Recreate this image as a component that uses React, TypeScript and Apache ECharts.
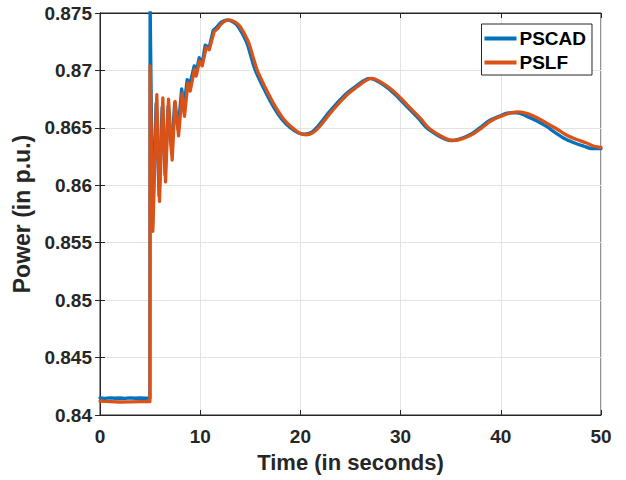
import React, { useEffect, useRef } from "react";
import * as echarts from "echarts";

const seriesNames = ["PSCAD", "PSLF"];

// PSCAD: [time (s), power (p.u.)]
const pscadData: [number, number][] = [
  [0, 0.84148], [0.5, 0.84145], [1, 0.84149], [1.5, 0.84146], [2, 0.84148], [2.5, 0.84145],
  [3, 0.84149], [3.5, 0.84146], [4, 0.84148], [4.5, 0.84146], [4.98, 0.84148],
  [5.0, 0.8760], [5.25, 0.8566], [5.6, 0.8671], [5.9, 0.8591], [6.2, 0.8668], [6.5, 0.8609],
  [6.8, 0.8669], [7.15, 0.8628], [7.45, 0.8672], [7.8, 0.8649], [8.15, 0.8684], [8.4, 0.8669],
  [8.7, 0.8692], [9.0, 0.8689], [9.4, 0.8704], [9.6, 0.8699], [9.9, 0.8711], [10.2, 0.8706],
  [10.5, 0.8722], [10.9, 0.8720], [11.3, 0.8735], [11.7, 0.8738],
  [12.1, 0.8742], [12.7, 0.8744], [13.3, 0.8742], [13.8, 0.8738], [14.6, 0.8725], [15.1, 0.8711],
  [15.5, 0.8700], [16.3, 0.8685], [17.2, 0.8670], [18.1, 0.8658], [19.0, 0.8650], [19.8, 0.86455],
  [20.4, 0.86445], [21.1, 0.8646], [21.9, 0.8653], [22.8, 0.8663], [23.7, 0.8672], [24.6, 0.8680],
  [25.5, 0.8686], [26.3, 0.8691], [26.9, 0.8693], [27.8, 0.8690], [28.8, 0.8684], [29.8, 0.8676],
  [30.8, 0.8667], [31.8, 0.8658], [32.6, 0.8650], [33.6, 0.8644], [34.5, 0.8640], [35.1, 0.8639],
  [36.1, 0.8641], [37.1, 0.8645], [37.9, 0.8650], [38.8, 0.8656], [39.8, 0.8660], [40.8, 0.8663],
  [41.6, 0.8663], [42.6, 0.8660], [43.6, 0.8656], [44.6, 0.8651], [45.4, 0.8646], [46.3, 0.8641],
  [47.3, 0.8637], [48.3, 0.8634], [49.1, 0.8632], [50, 0.8632],
];

// PSLF: [time (s), power (p.u.)]
const pslfData: [number, number][] = [
  [0, 0.84120], [1, 0.84116], [2, 0.84113], [3, 0.84114], [4, 0.84116], [4.98, 0.84117],
  [5.0, 0.8704], [5.27, 0.8560], [5.67, 0.8679], [5.94, 0.8586], [6.27, 0.8676], [6.54, 0.8603],
  [6.84, 0.8675], [7.2, 0.8622], [7.5, 0.8673], [7.84, 0.8643], [8.2, 0.8680], [8.43, 0.8660],
  [8.77, 0.8689], [9.0, 0.8682], [9.43, 0.8701], [9.6, 0.8695], [9.93, 0.8708], [10.2, 0.8704],
  [10.6, 0.8720], [10.9, 0.8718], [11.4, 0.8734], [11.8, 0.8737],
  [12.3, 0.8742], [12.9, 0.8744], [13.5, 0.8742], [14.0, 0.8738], [14.8, 0.8725], [15.3, 0.8711],
  [15.7, 0.8700], [16.5, 0.8685], [17.4, 0.8670], [18.3, 0.8658], [19.2, 0.8650], [20.0, 0.8645],
  [20.6, 0.8644], [21.3, 0.8646], [22.1, 0.8653], [23.0, 0.8663], [23.9, 0.8672], [24.8, 0.8680],
  [25.7, 0.8686], [26.5, 0.8691], [27.1, 0.8693], [28.0, 0.8690], [29.0, 0.8684], [30.0, 0.8676],
  [31.0, 0.8667], [32.0, 0.8658], [32.8, 0.8650], [33.8, 0.8644], [34.7, 0.8640], [35.3, 0.8639],
  [36.3, 0.8641], [37.3, 0.8645], [38.1, 0.8650], [39.0, 0.8656], [40.0, 0.8660], [41.0, 0.8663],
  [41.8, 0.8664], [42.8, 0.8662], [43.8, 0.8658], [44.8, 0.8653], [45.6, 0.8649], [46.5, 0.8644],
  [47.5, 0.8640], [48.5, 0.8637], [49.3, 0.8634], [50, 0.8633],
];

const xTicks = [0, 10, 20, 30, 40, 50];
const yTicks = [0.84, 0.845, 0.85, 0.855, 0.86, 0.865, 0.87, 0.875];
// the slow swing after this time is drawn as a smooth curve
const smoothFrom = 11.7;

const FONT = "'Liberation Sans', Arial, Helvetica, sans-serif";
const TXT = "#262626";
const BLUE = "#0072BD";
const ORANGE = "#D95319";

export default function App() {
  const ref = useRef<HTMLDivElement>(null);
  useEffect(() => {
    if (!ref.current) return;
    const chart = echarts.init(ref.current, undefined, { renderer: "svg" });
    const xMin = xTicks[0];
    const xMax = xTicks[xTicks.length - 1];
    const xInt = xTicks[1] - xTicks[0];
    const yMin = yTicks[0];
    const yMax = yTicks[yTicks.length - 1];
    const yInt = 0.005;
    const fmtY = (v: number) => parseFloat(v.toFixed(3)).toString();
    const fast = (d: [number, number][]) => d.filter((p) => p[0] <= smoothFrom + 0.15);
    const slow = (d: [number, number][]) => d.filter((p) => p[0] >= smoothFrom - 0.15);
    const mk = (name: string, data: [number, number][], color: string, smooth: number | boolean) => ({
      name,
      type: "line",
      xAxisIndex: 0,
      yAxisIndex: 0,
      data,
      showSymbol: false,
      smooth,
      clip: true,
      lineStyle: { color, width: 3.3, cap: "round", join: "round" },
      itemStyle: { color },
    });
    chart.setOption({
      animation: false,
      backgroundColor: "#ffffff",
      grid: {
        left: 100,
        right: 25,
        top: 13,
        bottom: 65,
        show: true,
        borderColor: TXT,
        borderWidth: 1,
        backgroundColor: "transparent",
      },
      legend: {
        data: seriesNames,
        orient: "vertical",
        right: 34,
        top: 24,
        backgroundColor: "#ffffff",
        borderColor: TXT,
        borderWidth: 1,
        borderRadius: 0,
        padding: [5, 6, 3, 3],
        itemGap: 5,
        itemWidth: 32,
        itemHeight: 4,
        icon: "rect",
        textStyle: { fontFamily: FONT, fontWeight: "bold", fontSize: 19, color: "#000", padding: [0, 0, 0, -2] },
      },
      xAxis: [
        {
          type: "value",
          min: xMin,
          max: xMax,
          interval: xInt,
          name: "Time (in seconds)",
          nameLocation: "middle",
          nameGap: 36,
          nameTextStyle: { fontFamily: FONT, fontWeight: "bold", fontSize: 22, color: TXT },
          axisLine: { show: true, lineStyle: { color: TXT, width: 1 } },
          axisTick: { show: true, inside: true, length: 5, lineStyle: { color: TXT } },
          axisLabel: { fontFamily: FONT, fontWeight: "bold", fontSize: 19, color: TXT, margin: 12 },
          splitLine: { show: true, lineStyle: { color: "#e3e3e3", width: 1 } },
        },
        {
          type: "value",
          position: "top",
          min: xMin,
          max: xMax,
          interval: xInt,
          axisLine: { show: true, lineStyle: { color: TXT } },
          axisTick: { show: true, inside: true, length: 5, lineStyle: { color: TXT } },
          axisLabel: { show: false },
          splitLine: { show: false },
        },
      ],
      yAxis: [
        {
          type: "value",
          min: yMin,
          max: yMax,
          interval: yInt,
          name: "Power (in p.u.)",
          nameLocation: "middle",
          nameGap: 67,
          nameTextStyle: { fontFamily: FONT, fontWeight: "bold", fontSize: 23, color: TXT },
          axisLine: { show: true, lineStyle: { color: TXT, width: 1 } },
          axisTick: { show: true, inside: true, length: 5, lineStyle: { color: TXT } },
          axisLabel: {
            fontFamily: FONT,
            fontWeight: "bold",
            fontSize: 19,
            color: TXT,
            margin: 8,
            formatter: fmtY,
          },
          splitLine: { show: true, lineStyle: { color: "#e3e3e3", width: 1 } },
        },
        {
          type: "value",
          position: "right",
          min: yMin,
          max: yMax,
          interval: yInt,
          axisLine: { show: true, lineStyle: { color: TXT } },
          axisTick: { show: true, inside: true, length: 5, lineStyle: { color: TXT } },
          axisLabel: { show: false },
          splitLine: { show: false },
        },
      ],
      series: [
        mk(seriesNames[0], fast(pscadData), BLUE, false),
        mk(seriesNames[0], slow(pscadData), BLUE, 0.35),
        mk(seriesNames[1], fast(pslfData), ORANGE, false),
        mk(seriesNames[1], slow(pslfData), ORANGE, 0.35),
      ],
    });
    return () => chart.dispose();
  }, []);
  return (
    <div
      ref={ref}
      style={{ position: "fixed", left: 0, top: 0, width: 626, height: 480, background: "#fff" }}
    />
  );
}
